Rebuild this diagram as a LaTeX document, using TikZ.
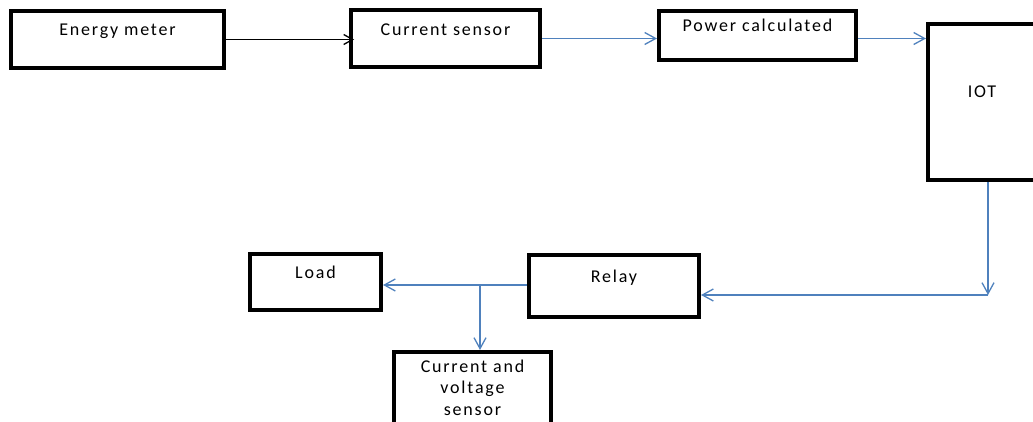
\documentclass[tikz,border=0pt]{standalone}
\usepackage{fontspec}
\setmainfont{Carlito}[LetterSpace=10]
\usetikzlibrary{arrows.meta}
\definecolor{linkblue}{RGB}{79,129,189}

\begin{document}
\begin{tikzpicture}[x=1pt, y=-1pt,
      box/.style={draw, line width=4pt, inner sep=0pt, anchor=north west,
        font=\fontsize{18}{21.5}\selectfont, align=center},
      flow/.style={-{Straight Barb[length=11pt, width=12pt]}, line width=1.3pt, draw=linkblue},
      feed/.style={-{Straight Barb[length=9pt, width=10pt]}, line width=1.3pt, shorten >=-5pt}
    ]
    \useasboundingbox (0,0) rectangle (1033,422);

    % --- top row ---
    \node[box, minimum width=213pt, minimum height=57pt, text height=25pt, text depth=32pt]
      (energy) at (9,9) {Energy meter};
    \node[box, minimum width=189pt, minimum height=57pt, text height=25.5pt, text depth=31.5pt]
      (csensor) at (349,8) {Current sensor};
    \node[box, minimum width=197pt, minimum height=49pt, text height=21pt, text depth=28pt]
      (power) at (657,9) {Power calculated};
    \node[box, minimum width=108pt, minimum height=156pt, text height=74pt, text depth=82pt]
      (iot) at (926,22) {IOT};

    % --- bottom row ---
    \node[box, minimum width=131pt, minimum height=56pt, text height=24pt, text depth=32pt]
      (load) at (248,252) {Load};
    \node[box, minimum width=170pt, minimum height=62pt, text height=27pt, text depth=35pt]
      (relay) at (527,253) {Relay};
    \node[box, minimum width=157pt, minimum height=76pt, text height=63pt, text depth=13pt]
      (cvsensor) at (392,350) {Current and\\voltage\\sensor};

    \coordinate (turn) at (988,295);
    \coordinate (split) at (480,285);

    % --- connectors ---
    \draw[feed] (energy.east) -- (energy.east -| csensor.west);
    \draw[flow] (csensor.east) -- (csensor.east -| power.west);
    \draw[flow] (csensor.east -| power.east) -- (csensor.east -| iot.west);
    \draw[flow] (turn |- iot.south) -- (turn);
    \draw[flow] (turn) -- (turn -| relay.east);
    \draw[flow] (split -| relay.west) -- (split -| load.east);
    \draw[flow] (split) -- (split |- cvsensor.north);
  \end{tikzpicture}
\end{document}
